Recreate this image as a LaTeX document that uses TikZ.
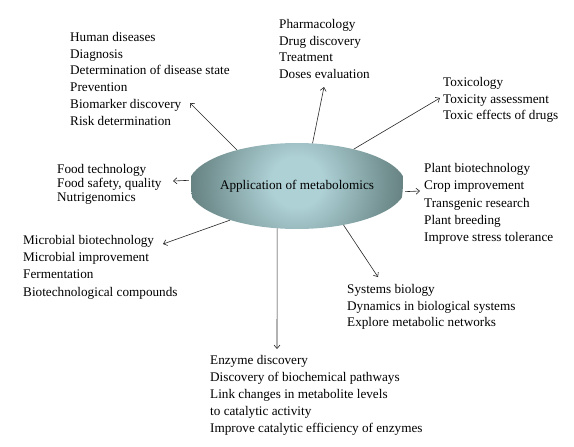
\documentclass[tikz,border=0pt]{standalone}
\usepackage{fontspec}
\setmainfont{Liberation Serif}
\usetikzlibrary{shapes.geometric,arrows.meta}
\definecolor{elldark}{RGB}{80,104,102}
\definecolor{ellmid}{RGB}{122,152,153}
\definecolor{elllight}{RGB}{174,209,214}
\pgfdeclareradialshading{ellshade}{\pgfpoint{0bp}{0bp}}{color(0bp)=(elllight); color(6bp)=(elllight); color(19bp)=(ellmid); color(31bp)=(elldark); color(50bp)=(elldark)}
\tikzset{
  txt/.style={anchor=north west, inner sep=0pt, align=left, font=\fontsize{13.2pt}{16.8pt}\selectfont},
  arr/.style={draw=black!85, line width=0.6pt, -{Straight Barb[length=3.5pt,width=6pt]}}
}
\begin{document}
\begin{tikzpicture}[x=1pt,y=-1pt]
\useasboundingbox (0,0) rectangle (574,447);
\node[ellipse, minimum width=208pt, minimum height=86pt, inner sep=0pt,
  path picture={\shade[shading=ellshade] ([yshift=4pt]path picture bounding box.center) circle[radius=106pt];},
  font=\fontsize{13.2pt}{16pt}\selectfont] (app) at (297,186) {Application of metabolomics};

\node[txt] (human) at (70,32) {Human diseases\\Diagnosis\\Determination of disease state\\Prevention\\Biomarker discovery\\Risk determination};
\node[txt] (pharma) at (279,19) {Pharmacology\\Drug discovery\\Treatment\\Doses evaluation};
\node[txt] (toxic) at (443,77) {Toxicology\\Toxicity assessment\\Toxic effects of drugs};
\node[txt, font=\fontsize{13.2pt}{17.4pt}\selectfont] (plant) at (424,163) {Plant biotechnology\\Crop improvement\\Transgenic research\\Plant breeding\\Improve stress tolerance};
\node[txt, font=\fontsize{13.2pt}{14pt}\selectfont] (food) at (57,164) {Food technology\\Food safety, quality\\Nutrigenomics};
\node[txt, font=\fontsize{13.2pt}{17.3pt}\selectfont] (micro) at (23,235) {Microbial biotechnology\\Microbial improvement\\Fermentation\\Biotechnological compounds};
\node[txt] (systems) at (347,284) {Systems biology\\Dynamics in biological systems\\Explore metabolic networks};
\node[txt, font=\fontsize{13.2pt}{17pt}\selectfont] (enzyme) at (210,355) {Enzyme discovery\\Discovery of biochemical pathways\\Link changes in metabolite levels\\to catalytic activity\\Improve catalytic efficiency of enzymes};

\coordinate (t1) at (190,103);
\coordinate (t2) at (324,87);
\coordinate (t3) at (440,98);
\coordinate (t4) at (420,191);
\coordinate (t5) at (173,181);
\coordinate (t6) at (163,244);
\coordinate (t7) at (378,277);
\coordinate (t8) at (277,349);

\draw[arr] (app.149) -- (t1);
\draw[arr] (app.70) -- (t2);
\draw[arr] (app.33) -- (t3);
\draw[arr] (app.-3) -- (t4);
\draw[arr] (app.177) -- (t5);
\draw[arr] (app.207) -- (t6);
\draw[arr] (app.-40) -- (t7);
\draw[arr] (app.245) -- (t8);
\end{tikzpicture}
\end{document}
